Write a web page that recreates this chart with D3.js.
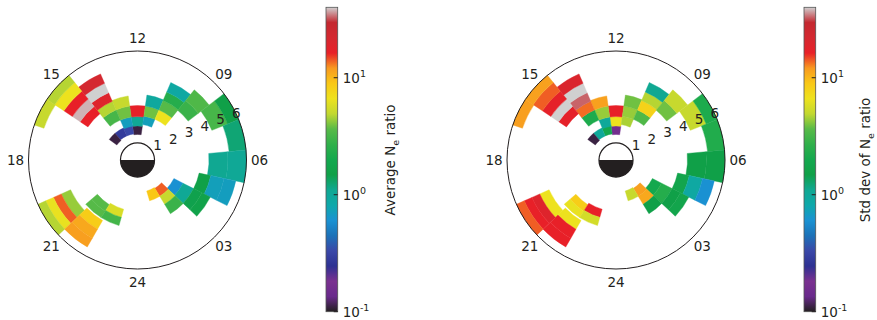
<!DOCTYPE html>
<html><head><meta charset="utf-8">
<script src="https://cdn.jsdelivr.net/npm/d3@7"></script>
<style>
body{margin:0;background:#fff}
svg{display:block}
text{font-family:"DejaVu Sans",sans-serif;fill:#231f20}
</style>
</head><body>
<svg id="c" width="877" height="320"></svg>
<script>
// ---------- data: bins in MLT (hours) and L-shell ----------
const mltStart = [11.45,11.45,11.45,12.55,13.6,14.67,12.55,12.55,12.55,13.55,13.55,13.55,13.55,13.55,14.6,14.6,14.6,14.6,14.6,15.75,
  10.45,10.45,10.45,9.4,9.4,9.4,9.4,8.5,8.5,7.45,7.45,6.35,5.2,5.2,
  4.2,4.2,4.2,3.1,3.1,3.1,3.1,2.1,2.1,2.1,1.1,
  19.6,19.6,19.6,19.6,20.9,20.9,20.9,20.7,20.7,21.85,21.85];
const mltEnd = [12.55,12.55,12.55,13.6,14.67,15.6,13.55,13.55,13.55,14.6,14.6,14.6,14.6,14.6,15.75,15.75,15.75,15.75,15.75,16.75,
  11.45,11.45,11.45,10.45,10.45,10.45,10.45,9.4,9.4,8.5,8.5,7.45,6.35,6.35,
  5.2,5.2,5.2,4.2,4.2,4.2,4.2,3.1,3.1,3.1,2.1,
  20.9,20.9,20.9,20.9,22.0,22.0,22.0,21.85,21.85,22.95,22.95];
const lStart = [1.5,2.0,2.55,1.55,1.55,1.5,2.0,2.55,3.2,2.55,3.2,3.75,4.3,4.9,3.5,4.05,4.6,5.2,5.85,5.8,
  2.1,2.6,3.2,2.6,3.2,3.8,4.35,3.75,4.5,4.7,5.7,5.4,4.2,5.3,
  3.7,4.4,5.2,2.4,3.0,3.7,4.25,1.95,2.5,3.05,1.9,
  4.3,4.9,5.4,5.9,4.1,4.7,5.3,3.1,3.55,3.0,3.5];
const lEnd = [2.0,2.55,3.2,2.05,2.05,2.05,2.55,3.2,3.8,3.2,3.75,4.3,4.9,5.5,4.05,4.6,5.2,5.85,6.4,6.4,
  2.6,3.2,3.85,3.2,3.8,4.35,4.95,4.5,5.3,5.7,6.4,6.4,5.3,6.4,
  4.4,5.2,5.9,3.0,3.7,4.25,4.8,2.5,3.05,3.7,2.5,
  4.9,5.4,5.9,6.4,4.7,5.3,5.9,3.55,4.0,3.5,4.0];
const avgRatio = [0.11,1.05,16.5,0.33,0.28,0.11,0.7,3.9,5.1,3.2,4.75,19,40,22,16.3,38,16.3,6.6,4.75,5.1,
  0.72,3.9,0.95,6.6,3.6,2.4,0.9,2.9,3.4,3.2,1.5,1.24,1.1,1.05,
  1.5,0.72,0.7,0.6,1.05,1.45,1.6,14,5.1,2.9,8.9,
  4.35,14,6.4,4.75,8.4,11,11.7,3.6,3.6,5.7,3.1];
const stdRatio = [0.16,6.6,16.5,2.0,1.0,0.11,1.0,4.35,11.5,2.2,13.5,33,40,20,17,40,17,14,11.5,11.7,
  4.6,4.35,3.9,3.4,8.0,4.75,1.1,3.9,5.1,5.1,2.2,2.3,1.5,1.5,
  1.8,0.9,0.6,2.0,2.4,1.5,1.8,11.7,11,1.5,5.1,
  6.6,19,16.3,14,6.6,16.3,16.3,8.4,6.4,16.3,5.5];

const hourTicks = [12, 9, 6, 3, 24, 21, 18, 15];
const hourLabels = ["12","09","06","03","24","21","18","15"];
const lTicks = [1, 2, 3, 4, 5, 6];
const cbTicks = [0.1, 1, 10];
const cbExp = ["-1", "0", "1"];

// colormap (nipy_spectral as printed)
const cmapPos = [0,0.05,0.1,0.15,0.2,0.25,0.3,0.35,0.4,0.45,0.5,0.55,0.6,0.65,0.7,0.75,0.8,0.85,0.9,0.95,1];
const cmapCol = ["#231f20","#6a2a8c","#7a3190","#2e3192","#3a48a8","#1c72b8","#1a92d2","#0ea8aa","#10a892","#10a048","#14a84e","#30b04a","#58ba48","#c2d830","#eee21e","#f9c816","#f89a20","#e82028","#d42830","#c42830","#d0d0d0"];
const vmin = 0.1, vmax = 40;

const svg = d3.select("#c");
const tScale = d3.scaleLog().domain([vmin, vmax]).range([0, 1]).clamp(true);
const cmap = d3.scaleLinear().domain(cmapPos).range(cmapCol).interpolate(d3.interpolateRgb).clamp(true);
const color = v => cmap(tScale(v));

const R = 109;
const rScale = d3.scaleLinear().domain([0, 6.4]).range([0, R]);
const ang = d3.scaleLinear().domain([12, 0]).range([0, Math.PI]);
const cells = d3.range(mltStart.length);

function polarPanel(cx, cy, values) {
  const g = svg.append("g").attr("transform", `translate(${cx},${cy})`);
  const arc = d3.arc();
  g.selectAll("path.cell").data(cells).join("path")
    .attr("class", "cell")
    .attr("d", i => arc({innerRadius: rScale(lStart[i]), outerRadius: rScale(lEnd[i]),
      startAngle: ang(mltEnd[i]), endAngle: ang(mltStart[i])}))
    .attr("fill", i => color(values[i]))
    .attr("stroke", i => color(values[i]))
    .attr("stroke-width", 0.4);
  g.append("circle").attr("r", rScale(6.4)).attr("fill", "none").attr("stroke", "#231f20").attr("stroke-width", 1);
  // Earth
  const er = rScale(1);
  g.append("circle").attr("r", er).attr("fill", "#fff");
  g.append("path").attr("d", d3.arc()({innerRadius: 0, outerRadius: er, startAngle: Math.PI/2, endAngle: 3*Math.PI/2}))
    .attr("fill", "#231f20");
  g.append("circle").attr("r", er).attr("fill", "none").attr("stroke", "#231f20").attr("stroke-width", 1.2);
  // hour labels
  g.selectAll("text.h").data(hourTicks).join("text").attr("class", "h")
    .attr("x", (d) => (R + 13) * Math.sin(ang(d)))
    .attr("y", (d) => -(R + 13) * Math.cos(ang(d)))
    .attr("text-anchor", "middle").attr("dominant-baseline", "central")
    .attr("font-size", 13.5)
    .text((d, i) => hourLabels[i]);
  // L labels
  const la = ang(7.5);
  g.selectAll("text.l").data(lTicks).join("text").attr("class", "l")
    .attr("x", d => rScale(d) * Math.sin(la) + 4.3)
    .attr("y", d => -rScale(d) * Math.cos(la) - 8.2)
    .attr("text-anchor", "middle").attr("dominant-baseline", "central")
    .attr("font-size", 13.5)
    .text(d => d);
}

polarPanel(137.5, 160, avgRatio);
polarPanel(616, 160, stdRatio);

// colorbars
const defs = svg.append("defs");
const grad = defs.append("linearGradient").attr("id", "cbg").attr("x1", 0).attr("y1", 1).attr("x2", 0).attr("y2", 0);
d3.range(0, 1.0001, 0.01).forEach(t => grad.append("stop").attr("offset", t).attr("stop-color", cmap(t)));

function colorbar(x0, labelX, titleParts) {
  const y = d3.scaleLog().domain([vmin, vmax]).range([311.7, 7.3]);
  const w = 11.7;
  const g = svg.append("g");
  g.append("rect").attr("x", x0).attr("y", y(vmax)).attr("width", w).attr("height", y(vmin) - y(vmax))
    .attr("fill", "url(#cbg)").attr("stroke", "#555").attr("stroke-width", 0.8);
  g.selectAll("line.t").data(cbTicks).join("line")
    .attr("x1", x0 + w - 4).attr("x2", x0 + w).attr("y1", d => y(d)).attr("y2", d => y(d))
    .attr("stroke", "#231f20").attr("stroke-width", 1);
  const tl = g.selectAll("text.t").data(cbTicks).join("text")
    .attr("x", x0 + w + 5).attr("y", d => y(d) + 5).attr("font-size", 13.5);
  tl.append("tspan").text("10");
  tl.append("tspan").attr("dy", -6).attr("font-size", 9.5).text((d, i) => cbExp[i]);
  const tt = g.append("text").attr("transform", `translate(${labelX},160) rotate(-90)`)
    .attr("text-anchor", "middle").attr("font-size", 13.5);
  tt.append("tspan").text(titleParts[0]);
  tt.append("tspan").attr("dy", 3.5).attr("font-size", 9.5).text("e");
  tt.append("tspan").attr("dy", -3.5).text(" ratio");
}
colorbar(326, 395, ["Average N"]);
colorbar(804, 870, ["Std dev of N"]);
</script>
</body></html>
